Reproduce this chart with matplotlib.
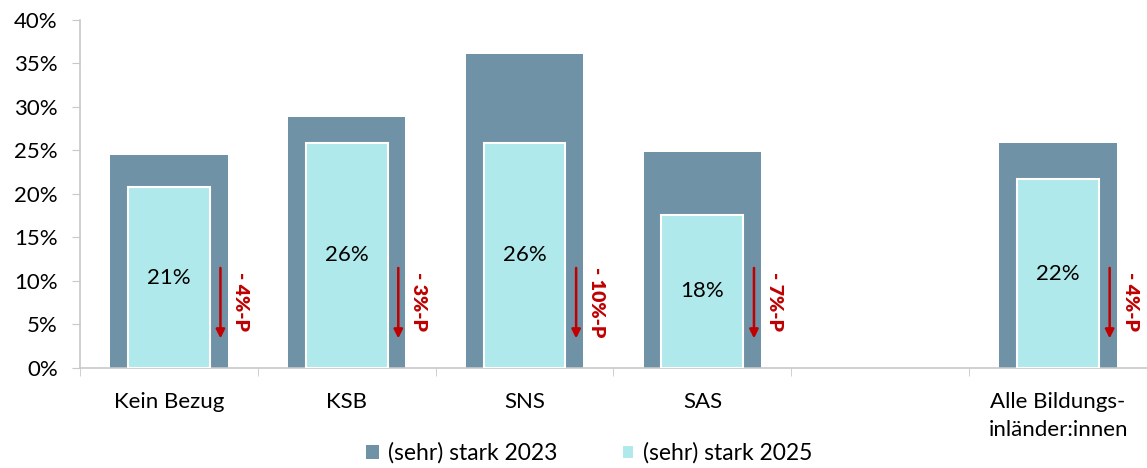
import matplotlib
matplotlib.use('Agg')
import matplotlib.pyplot as plt
from matplotlib.ticker import PercentFormatter, FixedLocator

plt.rcParams['font.family'] = ['Lato', 'DejaVu Sans']

# Data
categories = ['Kein Bezug', 'KSB', 'SNS', 'SAS', '', 'Alle Bildungs-\ninländer:innen']
stark_2023 = [24.5, 28.8, 36.1, 24.8, None, 25.9]
stark_2025 = [20.8, 25.9, 25.9, 17.6, None, 21.7]

dark = '#6F92A6'
light = '#B0E9EB'
red = '#C00000'
grey = '#C8C8C8'

fig = plt.figure(figsize=(11.47, 4.68), dpi=100)
ax = fig.add_axes([0.0697, 0.2137, 0.9303, 0.7436])

xs = [i for i, v in enumerate(stark_2023) if v is not None]
v23 = [stark_2023[i] for i in xs]
v25 = [stark_2025[i] for i in xs]

ax.bar(xs, v23, width=0.66, color=dark, label='(sehr) stark 2023', zorder=2)
ax.bar(xs, v25, width=0.46, color=light, edgecolor='white', linewidth=1.5,
       label='(sehr) stark 2025', zorder=3)

# value labels in the middle of the 2025 bars, change arrows on the right
for x, a, b in zip(xs, v23, v25):
    ax.text(x, b / 2, f'{round(b)}%', ha='center', va='center', fontsize=16,
            color='black', zorder=4)
    ax.annotate('', xy=(x + 0.29, 3.4), xytext=(x + 0.29, 11.5),
                arrowprops=dict(arrowstyle='-|>', color=red, lw=1.8,
                                mutation_scale=13, shrinkA=0, shrinkB=0),
                zorder=4)
    ax.text(x + 0.405, 7.6, f'- {abs(round(b - a))}%-P', rotation=270,
            ha='center', va='center', fontsize=14, fontweight='heavy', color=red)

ax.set_xlim(-0.5, len(categories) - 0.5)
ax.set_ylim(0, 40)
ax.set_yticks(range(0, 41, 5))
ax.yaxis.set_major_formatter(PercentFormatter(decimals=0))
ax.set_xticks(range(len(categories)))
ax.set_xticklabels(categories, fontsize=16, linespacing=1.55)
ax.xaxis.set_minor_locator(FixedLocator([i + 0.5 for i in range(-1, len(categories))]))

ax.tick_params(axis='y', labelsize=16, length=6, color=grey, pad=10)
ax.tick_params(axis='x', which='major', length=0, pad=17)
ax.tick_params(axis='x', which='minor', length=6, color=grey)

for s in ['top', 'right']:
    ax.spines[s].set_visible(False)
for s in ['left', 'bottom']:
    ax.spines[s].set_color(grey)
    ax.spines[s].set_linewidth(1.2)

fig.legend(loc='center', bbox_to_anchor=(0.514, 0.032), ncol=2, frameon=False,
           fontsize=16.5, handlelength=0.55, handleheight=0.55, handletextpad=0.4,
           columnspacing=2.8)

fig.savefig('out.png', dpi=100)
